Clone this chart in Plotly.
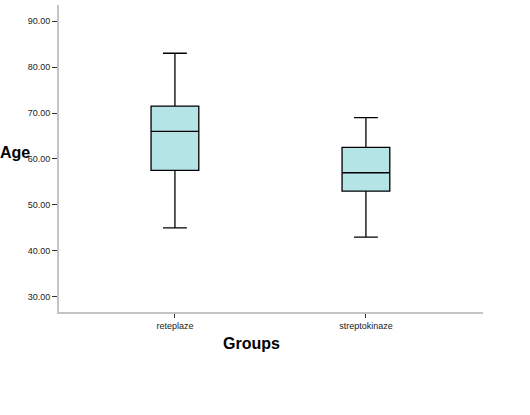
import plotly.graph_objects as go

groups = ["reteplaze", "streptokinaze"]
upper_whisker = [83.0, 69.0]
q3_values = [71.5, 62.5]
median_values = [66.0, 57.0]
q1_values = [57.5, 53.0]
lower_whisker = [45.0, 43.0]
y_ticks = [30, 40, 50, 60, 70, 80, 90]

fig = go.Figure()
fig.add_trace(go.Box(
    x=groups,
    q1=q1_values,
    median=median_values,
    q3=q3_values,
    lowerfence=lower_whisker,
    upperfence=upper_whisker,
    fillcolor="#B4E4E6",
    line=dict(color="black", width=1.3),
    width=0.25,
    whiskerwidth=0.5,
    boxpoints=False,
    showlegend=False,
    hoverinfo="skip",
))

fig.update_layout(
    width=530, height=415,
    margin=dict(l=59, r=47, t=5, b=103),
    plot_bgcolor="white", paper_bgcolor="white",
    font=dict(family="Liberation Sans, Arial", color="#222"),
    xaxis=dict(
        type="category",
        range=[-0.607, 1.613],
        showline=True, linecolor="#c4c4c4", linewidth=2,
        ticks="outside", ticklen=4, tickcolor="#333", tickwidth=1,
        tickfont=dict(size=9, color="#222"),
        showgrid=False, zeroline=False,
    ),
    yaxis=dict(
        range=[26.7, 93.5],
        tickvals=y_ticks,
        tickformat=".2f",
        showline=True, linecolor="#c4c4c4", linewidth=2,
        ticks="outside", ticklen=5, tickcolor="#333", tickwidth=1,
        tickfont=dict(size=9, color="#222"),
        showgrid=False, zeroline=False,
    ),
    annotations=[
        dict(text="<b>Age</b>", xref="paper", yref="paper", x=0, y=0,
             xanchor="right", yanchor="middle", xshift=-27, yshift=160,
             showarrow=False, font=dict(size=16, color="black")),
        dict(text="<b>Groups</b>", xref="paper", yref="paper", x=0, y=0,
             xanchor="center", yanchor="middle", xshift=192, yshift=-31,
             showarrow=False, font=dict(size=16, color="black")),
    ],
)

fig.write_html("out.html", config={"displayModeBar": False},
               post_script="document.body.style.margin='0';")
